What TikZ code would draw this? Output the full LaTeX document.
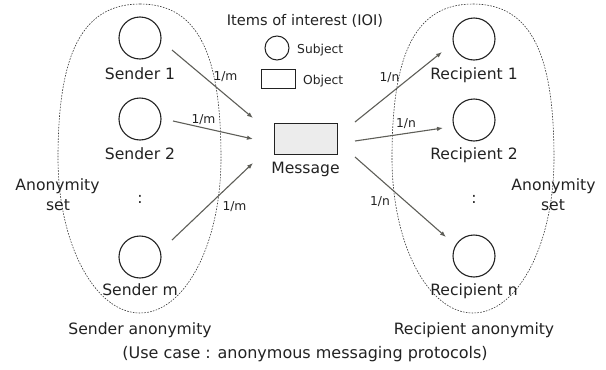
\documentclass[tikz,border=0pt]{standalone}
\usepackage{fontspec}
\setmainfont{DejaVu Sans}
\usetikzlibrary{arrows.meta}
\definecolor{txt}{HTML}{222222}
\definecolor{arr}{HTML}{5E5E58}
\definecolor{msgfill}{HTML}{ECECEC}
\begin{document}
\begin{tikzpicture}[x=1pt,y=-1pt,
  subj/.style={circle,draw=txt,line width=1.1pt,minimum size=42pt,inner sep=0pt},
  smallsubj/.style={circle,draw=txt,line width=1pt,minimum size=24pt,inner sep=0pt},
  objbox/.style={rectangle,draw=txt,line width=1pt,inner sep=0pt},
  lbl/.style={font=\fontsize{15.6}{18}\selectfont,text=txt,inner sep=0pt,anchor=base},
  captxt/.style={font=\fontsize{16}{18}\selectfont,text=txt,inner sep=0pt,anchor=base},
  ttl/.style={font=\fontsize{14.6}{17}\selectfont,text=txt,inner sep=0pt,anchor=base},
  small/.style={font=\fontsize{12.3}{14}\selectfont,text=txt,inner sep=0pt,anchor=base},
  conn/.style={draw=arr,line width=1.1pt,-{Latex[length=6pt,width=4.5pt]}},
  asetline/.style={draw=txt!90,line width=0.6pt,dash pattern=on 1.6pt off 1.3pt}]
\useasboundingbox (0,0) rectangle (606,370);

% anonymity sets (egg-shaped dashed outlines)
\coordinate (lt) at (140,4);
\coordinate (lr) at (221,158);
\coordinate (lb) at (140,313);
\coordinate (ll) at (58,158);
\draw[asetline] (lt) .. controls (200,4) and (221,58) .. (lr)
  .. controls (221,244) and (185,313) .. (lb)
  .. controls (95,313) and (58,244) .. (ll)
  .. controls (58,58) and (80,4) .. (lt) -- cycle;
\coordinate (rt) at (473,4);
\coordinate (rr) at (554,158);
\coordinate (rb) at (473,313);
\coordinate (rl) at (392,158);
\draw[asetline] (rt) .. controls (533,4) and (554,58) .. (rr)
  .. controls (554,244) and (518,313) .. (rb)
  .. controls (428,313) and (392,244) .. (rl)
  .. controls (392,58) and (413,4) .. (rt) -- cycle;

% senders
\node[subj] (s1) at (140,38) {};
\node[lbl] (s1l) at (140,79) {Sender 1};
\node[subj] (s2) at (140,119) {};
\node[lbl] (s2l) at (140,159) {Sender 2};
\node[lbl] (sdots) at (140,203) {:};
\node[subj] (sm) at (140,257) {};
\node[lbl] (sml) at (140,295) {Sender m};

% recipients
\node[subj] (r1) at (474,39) {};
\node[lbl] (r1l) at (474,79) {Recipient 1};
\node[subj] (r2) at (474,120) {};
\node[lbl] (r2l) at (474,159) {Recipient 2};
\node[lbl] (rdots) at (474,203) {:};
\node[subj] (rn) at (474,256) {};
\node[lbl] (rnl) at (474,295) {Recipient n};

% message
\node[objbox,fill=msgfill,minimum width=63pt,minimum height=31pt] (msg) at (305.5,138.5) {};
\node[lbl] (msgl) at (305.5,173) {Message};

% legend
\node[ttl] (ioi) at (305,25) {Items of interest (IOI)};
\node[smallsubj] (lsub) at (277,48) {};
\node[small,anchor=base west] (lsubl) at (297,53) {Subject};
\node[objbox,minimum width=34pt,minimum height=19pt] (lobj) at (278,78.5) {};
\node[small,anchor=base west] (lobjl) at (303,84) {Object};

% anonymity set labels
\node[lbl] (la1) at (57.5,190) {Anonymity};
\node[lbl] (la2) at (58,210) {set};
\node[lbl] (ra1) at (553.5,190) {Anonymity};
\node[lbl] (ra2) at (553,210) {set};

% bottom captions
\node[lbl] (sanon) at (140,334) {Sender anonymity};
\node[lbl] (ranon) at (474,334) {Recipient anonymity};
\node[captxt] (usecase) at (305,358) {(Use case : anonymous messaging protocols)};

% connector end points
\coordinate (s1o) at (172,50);
\coordinate (m1) at (253,118);
\coordinate (s2o) at (173,121);
\coordinate (m2) at (253,139);
\coordinate (smo) at (172,240);
\coordinate (m3) at (253,163);
\coordinate (mo1) at (355,122);
\coordinate (r1i) at (442,52);
\coordinate (mo2) at (355,141);
\coordinate (r2i) at (443,128);
\coordinate (mo3) at (355,157);
\coordinate (rni) at (446,237);

\draw[conn] (s1o) -- (m1);
\draw[conn] (s2o) -- (m2);
\draw[conn] (smo) -- (m3);
\draw[conn] (mo1) -- (r1i);
\draw[conn] (mo2) -- (r2i);
\draw[conn] (mo3) -- (rni);

% probability labels
\node[small] (p1) at (225.5,80) {1/m};
\node[small] (p2) at (203.5,123) {1/m};
\node[small] (p3) at (234.5,210) {1/m};
\node[small] (q1) at (389.5,81) {1/n};
\node[small] (q2) at (406,127) {1/n};
\node[small] (q3) at (380,205) {1/n};
\end{tikzpicture}
\end{document}
